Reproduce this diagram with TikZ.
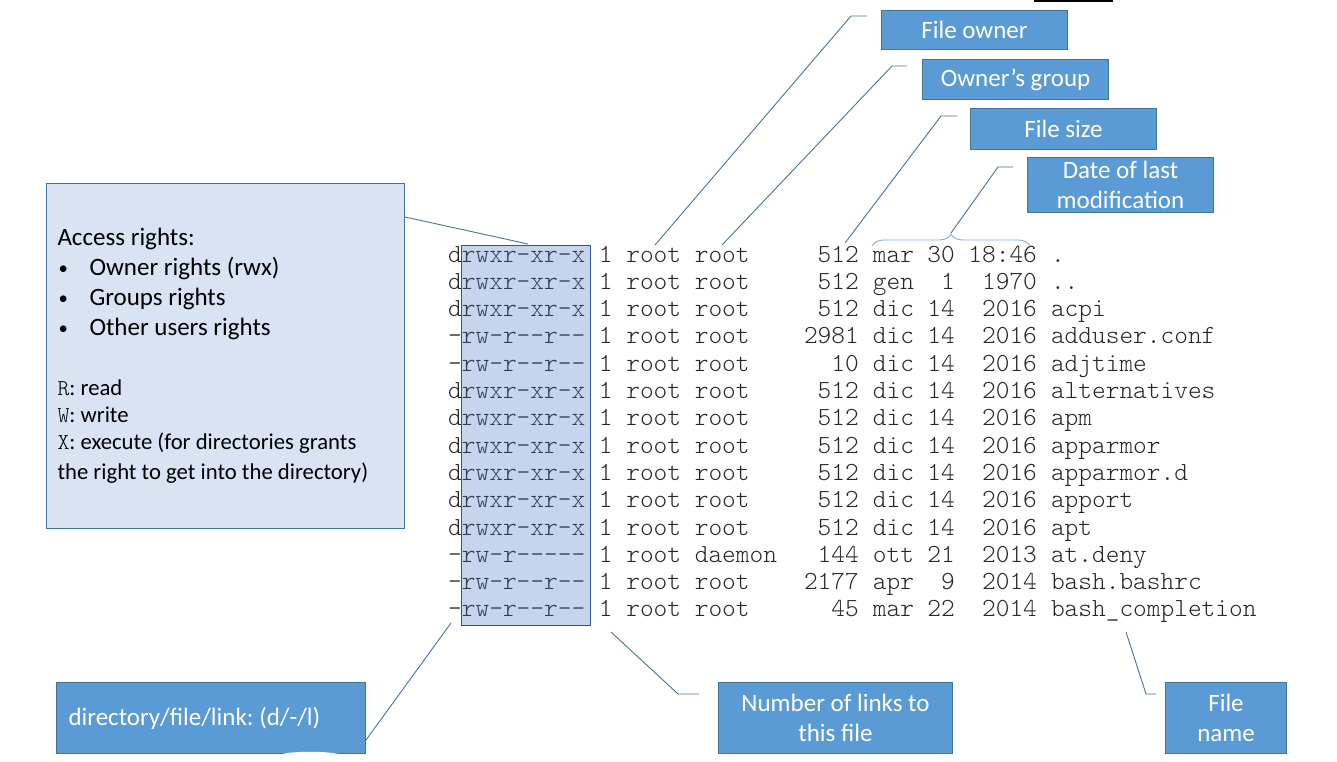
\documentclass[tikz,border=0pt]{standalone}
\usepackage{fontspec}
\usepackage{graphicx}
\usetikzlibrary{decorations.pathreplacing}
\setmonofont{lmmonolt10-regular.otf}
\newfontfamily\calfont{Carlito}
\definecolor{boxfill}{HTML}{5B9BD5}
\definecolor{boxline}{HTML}{41719C}
\definecolor{notefill}{HTML}{DAE3F3}
\definecolor{hlfill}{HTML}{4472C4}
\definecolor{hlline}{HTML}{2F5597}
\definecolor{leader}{HTML}{4A6FA0}
\definecolor{bracecol}{HTML}{8FAADC}
\definecolor{lsttext}{HTML}{262626}
\newcommand\bul{\makebox[32pt][l]{\hspace{1pt}\raisebox{1pt}{\scalebox{0.75}{\textbullet}}}}
\def\cw{13.7}
\tikzset{
  tag/.style={draw=boxline, fill=boxfill, text=white, font=\calfont\fontsize{25}{30}\selectfont\frenchspacing,
    align=flush center, inner sep=0pt, anchor=north west, line width=1pt},
  lst/.style={font=\ttfamily\fontsize{26.1}{27}\selectfont, text=lsttext, inner sep=0pt},
  leaderline/.style={draw=leader, line width=0.9pt},
}

\begin{document}
\begin{tikzpicture}[x=1pt, y=-1pt]
    \useasboundingbox (0,0) rectangle (1337,762);

    % ls -l listing, one column per field
    \foreach \perm/\grp/\size/\mon/\day/\yr/\fname [count=\i] in {
        drwxr-xr-x/root/512/mar/30/18:46/.,
        drwxr-xr-x/root/512/gen/1/1970/..,
        drwxr-xr-x/root/512/dic/14/2016/acpi,
        -rw-r--r--/root/2981/dic/14/2016/adduser.conf,
        -rw-r--r--/root/10/dic/14/2016/adjtime,
        drwxr-xr-x/root/512/dic/14/2016/alternatives,
        drwxr-xr-x/root/512/dic/14/2016/apm,
        drwxr-xr-x/root/512/dic/14/2016/apparmor,
        drwxr-xr-x/root/512/dic/14/2016/apparmor.d,
        drwxr-xr-x/root/512/dic/14/2016/apport,
        drwxr-xr-x/root/512/dic/14/2016/apt,
        -rw-r-----/daemon/144/ott/21/2013/at.deny,
        -rw-r--r--/root/2177/apr/9/2014/bash.bashrc,
        -rw-r--r--/root/45/mar/22/2014/bash\_completion} {
        \pgfmathsetmacro\yy{262+(\i-1)*27.3}
        \node[lst, anchor=base west] (perm\i) at (448,\yy) {\perm};
        \node[lst, anchor=base west] (nl\i) at ({448+11*\cw},\yy) {1};
        \node[lst, anchor=base west] (own\i) at ({448+13*\cw},\yy) {root};
        \node[lst, anchor=base west] (grp\i) at ({448+18*\cw},\yy) {\grp};
        \node[lst, anchor=base east] (size\i) at ({448+30*\cw},\yy) {\size};
        \node[lst, anchor=base west] (mon\i) at ({448+31*\cw},\yy) {\mon};
        \node[lst, anchor=base east] (day\i) at ({448+37*\cw},\yy) {\day};
        \node[lst, anchor=base east] (yr\i) at ({448+43*\cw},\yy) {\yr};
        \node[lst, anchor=base west] (fname\i) at ({448+44*\cw},\yy) {\fname};
    }

    % rights column highlight
    \draw[hlline, fill=hlfill, fill opacity=0.3] (461,245) rectangle (590,625);

    % brace over the date
    \draw[bracecol, line width=0.9pt, decorate, decoration={brace, amplitude=12pt}]
        (872,246) -- (1030,246);

    % callout boxes
    \node[tag, minimum width=186, minimum height=39] (owner) at (881,10) {File owner};
    \node[tag, minimum width=186, minimum height=40] (group) at (922,59) {Owner’s group};
    \node[tag, minimum width=186, minimum height=41] (fsize) at (970,108) {File size};
    \node[tag, minimum width=186, minimum height=55] (fdate) at (1027,157) {Date of last\\modification};
    \node[tag, minimum width=234, minimum height=71] (links) at (718,682) {Number of links to\\this file};
    \node[tag, minimum width=121, minimum height=71] (fname) at (1165,682) {File\\name};
    \node[tag, minimum height=71, text width=285, inner xsep=12pt, align=flush left] (ftype) at (56,682)
        {directory/file/link: (d/-/l)};
    \node[draw=boxline, fill=notefill, anchor=north west, minimum height=345, text width=336,
        inner xsep=11pt, inner ysep=0pt, line width=1pt, align=flush left,
        font=\calfont\fontsize{25}{30}\selectfont\frenchspacing] (access) at (46,183) {%
        Access rights:\\
        \bul Owner rights (rwx)\\
        \bul Groups rights\\
        \bul Other users rights\\[33pt]
        \fontsize{22.7}{27}\selectfont{\ttfamily R}: read\\
        {\ttfamily W}: write\\
        {\ttfamily X}: execute (for directories grants\\
        the right to get into the directory)};

    % leader ends
    \coordinate (ownend) at (655,245);
    \coordinate (grpend) at (722,245);
    \coordinate (sizeend) at (845,243);
    \coordinate (dateend) at (951,233);
    \coordinate (accend) at (528,244);
    \coordinate (typeend) at (451,623);
    \coordinate (linksend) at (611,632);
    \coordinate (nameend) at (1126,632);

    % leaders
    \draw[leaderline] ([xshift=-14pt,yshift=-6pt]owner.north west) -- ++(-16,0) -- (ownend);
    \draw[leaderline] ([xshift=-15pt,yshift=-7pt]group.north west) -- ++(-15,0) -- (grpend);
    \draw[leaderline] ([xshift=-13pt,yshift=-8pt]fsize.north west) -- ++(-16,0) -- (sizeend);
    \draw[leaderline] ([xshift=-14pt,yshift=-10pt]fdate.north west) -- ++(-15,0) -- (dateend);
    \draw[leaderline] ([yshift=-34pt]access.north east) -- (accend);
    \draw[leaderline] ([yshift=14pt]ftype.south east) -- (typeend);
    \draw[leaderline] ([xshift=-19pt,yshift=-12pt]links.north west) -- ++(-21,0) -- (linksend);
    \draw[leaderline] ([xshift=-9pt,yshift=-12pt]fname.north west) -- ++(-10,0) -- (nameend);

    % bits at the edges
    \fill[black] (1034,0) rectangle (1113,2.5);
    \fill[white] (274,757) .. controls (282,750) and (338,750) .. (347,757) -- cycle;
\end{tikzpicture}
\end{document}
